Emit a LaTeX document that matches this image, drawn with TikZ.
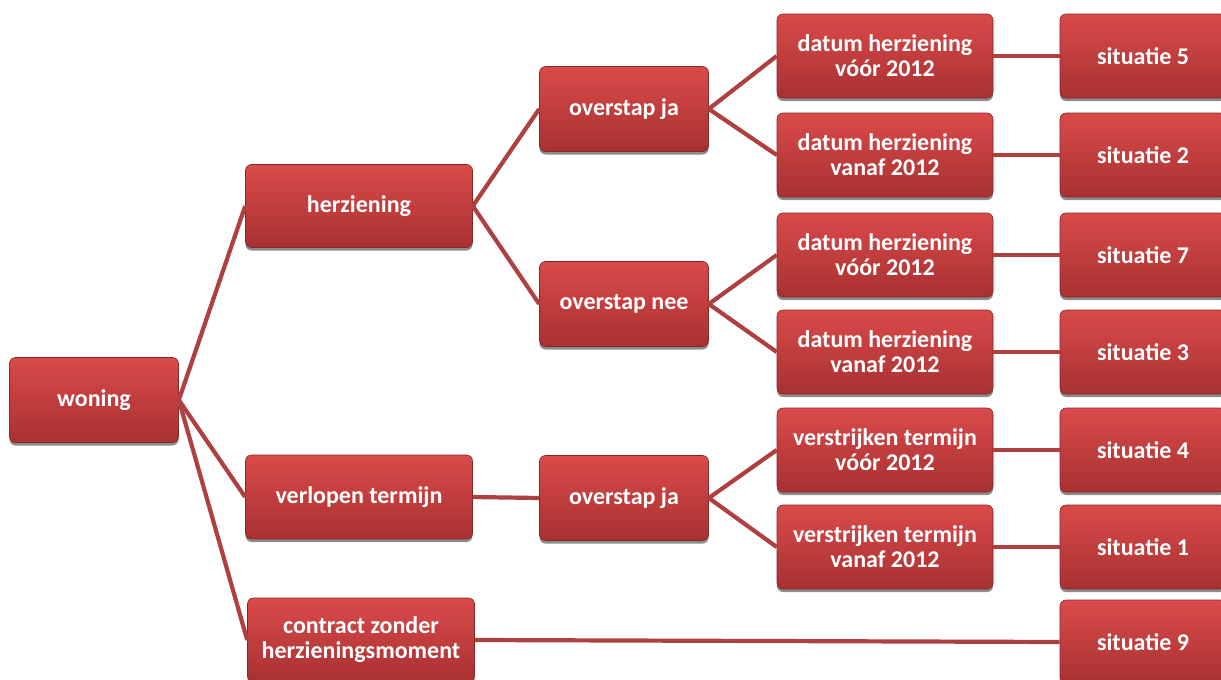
\documentclass[tikz,border=0pt]{standalone}
\usepackage{fontspec}
\setmainfont{Carlito}
\usetikzlibrary{shadows}
\definecolor{boxtop}{HTML}{DA4A4A}
\definecolor{boxbot}{HTML}{A83131}
\definecolor{linkred}{HTML}{AE4040}

\tikzset{
  box/.style={rounded corners=6pt, top color=boxtop, bottom color=boxbot,
    draw=boxbot!80!black, line width=0.6pt, text=white, align=center,
    font=\fontsize{24}{25}\selectfont\bfseries, inner sep=0pt,
    drop shadow={shadow xshift=0pt, shadow yshift=-3pt, fill=black, opacity=0.45}},
  link/.style={draw=linkred, line width=4.2pt}
}

\begin{document}
\begin{tikzpicture}[x=1pt,y=-1pt]
  \useasboundingbox (0,0) rectangle (1221,680);

  % root
  \node[box,minimum width=169pt,minimum height=85pt] (woning) at (94,400) {woning};

  % first level
  \node[box,minimum width=227pt,minimum height=83pt] (herz) at (359,206) {herziening};
  \node[box,minimum width=227pt,minimum height=84pt] (verl) at (359,497) {verlopen termijn};
  \node[box,minimum width=227pt,minimum height=84pt] (contr) at (361,640) {contract zonder\\herzieningsmoment};

  % second level
  \node[box,minimum width=169pt,minimum height=85pt] (ovja) at (624,109) {overstap ja};
  \node[box,minimum width=169pt,minimum height=85pt] (ovnee) at (624,304) {overstap nee};
  \node[box,minimum width=169pt,minimum height=85pt] (ovjb) at (624,498) {overstap ja};

  % third level
  \node[box,minimum width=216pt,minimum height=84pt] (dvoor1) at (885,56) {datum herziening\\vóór 2012};
  \node[box,minimum width=216pt,minimum height=84pt] (dvan1) at (885,155) {datum herziening\\vanaf 2012};
  \node[box,minimum width=216pt,minimum height=84pt] (dvoor2) at (885,255) {datum herziening\\vóór 2012};
  \node[box,minimum width=216pt,minimum height=84pt] (dvan2) at (885,352) {datum herziening\\vanaf 2012};
  \node[box,minimum width=216pt,minimum height=84pt] (tvoor) at (885,450) {verstrijken termijn\\vóór 2012};
  \node[box,minimum width=216pt,minimum height=84pt] (tvan) at (885,547) {verstrijken termijn\\vanaf 2012};

  % situaties
  \node[box,minimum width=166pt,minimum height=84pt] (sit5) at (1143,56) {situatie 5};
  \node[box,minimum width=166pt,minimum height=84pt] (sit2) at (1143,155) {situatie 2};
  \node[box,minimum width=166pt,minimum height=84pt] (sit7) at (1143,255) {situatie 7};
  \node[box,minimum width=166pt,minimum height=84pt] (sit3) at (1143,352) {situatie 3};
  \node[box,minimum width=166pt,minimum height=84pt] (sit4) at (1143,450) {situatie 4};
  \node[box,minimum width=166pt,minimum height=84pt] (sit1) at (1143,547) {situatie 1};
  \node[box,minimum width=166pt,minimum height=84pt] (sit9) at (1143,642) {situatie 9};

  % connectors
  \foreach \a/\b in {woning/herz,woning/verl,woning/contr,herz/ovja,herz/ovnee,verl/ovjb,
      ovja/dvoor1,ovja/dvan1,ovnee/dvoor2,ovnee/dvan2,ovjb/tvoor,ovjb/tvan,
      dvoor1/sit5,dvan1/sit2,dvoor2/sit7,dvan2/sit3,tvoor/sit4,tvan/sit1,contr/sit9}
    \draw[link] (\a.east) -- (\b.west);
\end{tikzpicture}
\end{document}
